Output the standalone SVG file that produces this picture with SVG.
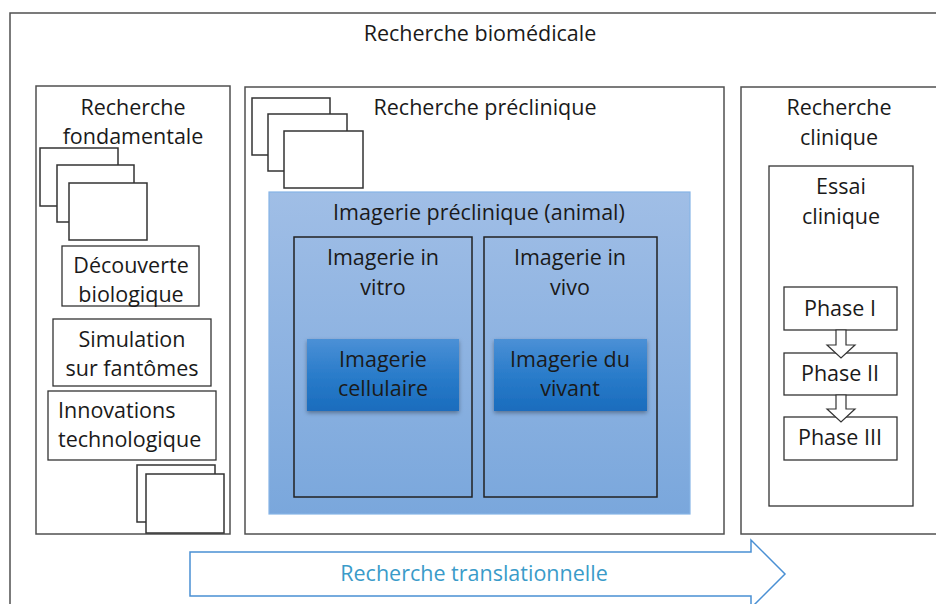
<svg xmlns="http://www.w3.org/2000/svg" width="936" height="604" viewBox="0 0 936 604">
<defs>
<linearGradient id="gBlue" x1="0" y1="0" x2="0" y2="1">
<stop offset="0" stop-color="#a0bee6"/>
<stop offset="1" stop-color="#7aa7dc"/>
</linearGradient>
<linearGradient id="gDark" x1="0" y1="0" x2="0" y2="1">
<stop offset="0" stop-color="#4b90d6"/>
<stop offset="0.5" stop-color="#2a7cca"/>
<stop offset="1" stop-color="#1a6cbd"/>
</linearGradient>
<filter id="sh" x="-10%" y="-10%" width="130%" height="140%">
<feDropShadow dx="0" dy="2" stdDeviation="2" flood-color="#000" flood-opacity="0.35"/>
</filter>
</defs>
<style>
text{font-family:"Open Sans","Liberation Sans",sans-serif;font-size:21.5px;fill:#1a1a1a;text-anchor:middle}
.frame{fill:#fff;stroke:#505050;stroke-width:1.5}
.sheet{fill:#fff;stroke:#333;stroke-width:1.5}
.box{fill:#fff;stroke:#333;stroke-width:1.3}
.inner{fill:none;stroke:#222;stroke-width:1.5}
.pa{fill:#fff;stroke:#333;stroke-width:1.2}
</style>
<rect width="936" height="604" fill="#fff"/>
<g id="biomedicale">
<rect class="frame" x="10" y="13" width="940" height="620"/>
<text x="480" y="41">Recherche biomédicale</text>
</g>
<g id="fondamentale">
<rect class="frame" x="36" y="86" width="194" height="448"/>
<text x="133" y="115">Recherche</text>
<text x="133" y="144">fondamentale</text>
<rect class="sheet" x="40" y="148" width="78" height="58"/>
<rect class="sheet" x="57" y="165" width="77" height="57"/>
<rect class="sheet" x="69" y="183" width="78" height="57"/>
<rect class="sheet" x="137" y="465" width="78" height="57"/>
<rect class="sheet" x="146" y="474" width="78" height="59"/>
</g>
<g id="decouverte">
<rect class="box" x="62" y="246" width="137" height="60"/>
<text x="131" y="273">Découverte</text>
<text x="131" y="302">biologique</text>
</g>
<g id="simulation">
<rect class="box" x="53" y="319" width="158" height="67"/>
<text x="132" y="347">Simulation</text>
<text x="132" y="376">sur fantômes</text>
</g>
<g id="innovations">
<rect class="box" x="48" y="391" width="168" height="69"/>
<text x="58" y="418" style="text-anchor:start">Innovations</text>
<text x="58" y="447" style="text-anchor:start">technologique</text>
</g>
<g id="preclinique">
<rect class="frame" x="245" y="87" width="479" height="447"/>
<text x="485" y="115">Recherche préclinique</text>
<rect class="sheet" x="252" y="98" width="78" height="57"/>
<rect class="sheet" x="268" y="114" width="79" height="57"/>
<rect class="sheet" x="284" y="131" width="79" height="57"/>
</g>
<g id="imagerie-preclinique">
<rect x="269" y="192" width="421" height="322" fill="url(#gBlue)" stroke="#86b4e6" stroke-width="1.2"/>
<text x="479" y="220">Imagerie préclinique (animal)</text>
</g>
<g id="in-vitro">
<rect class="inner" x="294" y="237" width="178" height="260"/>
<text x="383" y="265">Imagerie in</text>
<text x="383" y="295">vitro</text>
</g>
<g id="in-vivo">
<rect class="inner" x="484" y="237" width="173" height="260"/>
<text x="570" y="265">Imagerie in</text>
<text x="570" y="295">vivo</text>
</g>
<g id="cellulaire">
<rect x="307" y="339" width="152" height="72" fill="url(#gDark)" filter="url(#sh)"/>
<text x="383" y="367">Imagerie</text>
<text x="383" y="396">cellulaire</text>
</g>
<g id="vivant">
<rect x="494" y="339" width="153" height="72" fill="url(#gDark)" filter="url(#sh)"/>
<text x="570" y="367">Imagerie du</text>
<text x="570" y="396">vivant</text>
</g>
<g id="clinique">
<rect class="frame" x="741" y="87" width="220" height="447"/>
<text x="839" y="115">Recherche</text>
<text x="839" y="145">clinique</text>
</g>
<g id="essai">
<rect class="box" x="769" y="166" width="144" height="340"/>
<text x="841" y="194">Essai</text>
<text x="841" y="224">clinique</text>
</g>
<g id="phase1">
<rect class="box" x="784" y="287" width="113" height="43"/>
<text x="840" y="316">Phase I</text>
</g>
<g id="phase2">
<rect class="box" x="784" y="353" width="113" height="42"/>
<text x="840" y="381">Phase II</text>
</g>
<g id="phase3">
<rect class="box" x="784" y="417" width="113" height="43"/>
<text x="840" y="445">Phase III</text>
</g>
<g id="connectors">
<path class="pa" d="M836,330 H846 V345 H855 L841,358 L827,345 H836 Z"/>
<path class="pa" d="M836,395 H846 V409 H855 L841,422 L827,409 H836 Z"/>
<path d="M190,552 H751 V540 L785,574 L751,608 V596 H190 Z" fill="#fff" stroke="#4a90d4" stroke-width="1.5"/>
<text x="474" y="581" style="fill:#3a9bc9">Recherche translationnelle</text>
</g>
</svg>
